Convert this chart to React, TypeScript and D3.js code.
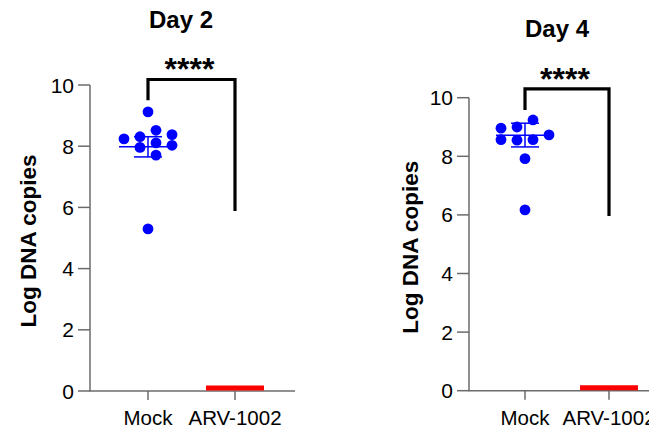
import * as d3 from 'd3';
import React from 'react';

// groups and day titles
const groups = ['Mock', 'ARV-1002'];
const titles = ['Day 2', 'Day 4'];
const yTicks = [0, 2, 4, 6, 8, 10];

// Mock values (log DNA copies) and their swarm column
const day2Mock = [9.12, 8.24, 8.31, 8.52, 8.38, 7.96, 8.11, 8.03, 7.71, 5.3];
const day2Cols = [0, -1.5, -0.5, 0.5, 1.5, -0.5, 0.5, 1.5, 0.5, 0];
const day4Mock = [8.96, 9.0, 9.24, 8.57, 8.55, 8.57, 8.73, 7.92, 6.17];
const day4Cols = [-1.5, -0.5, 0.5, -1.5, -0.5, 0.5, 1.5, 0, 0];

// summary lines (mean +/- SEM) for Mock, level for ARV-1002
const mockMean = [7.98, 8.72];
const mockUpper = [8.31, 9.13];
const mockLower = [7.65, 8.32];
const arvLevel = [0, 0];

// significance bracket
const bracketTop = [10.18, 10.3];
const bracketLeftEnd = [9.5, 9.58];
const bracketRightEnd = [5.88, 5.96];
const sigLabel = '****';

const font = "'Liberation Sans', Arial, sans-serif";

const panels = [
  { values: day2Mock, cols: day2Cols, axisX: 90, xEnd: 295, yTop: 85, yBottom: 391, mockX: 148, arvX: 235, titleX: 181, titleY: 28, labelX: 28 },
  { values: day4Mock, cols: day4Cols, axisX: 469, xEnd: 665, yTop: 97.7, yBottom: 390.7, mockX: 525, arvX: 609, titleX: 557, titleY: 37, labelX: 410 },
];

function Panel({ p, i }: { p: any; i: number }) {
  const y = d3.scaleLinear().domain([0, 10]).range([p.yBottom, p.yTop]);
  const x = d3.scalePoint<string>().domain(groups).range([p.mockX, p.arvX]);
  const mx = x('Mock')!;
  const ax = x('ARV-1002')!;
  const colStep = 16;
  const axisColor = '#6b6b6b';
  const blue = '#0000ff';

  return (
    <g>
      <text x={p.titleX} y={p.titleY} textAnchor="middle" fontFamily={font} fontWeight="bold" fontSize={24}>
        {titles[i]}
      </text>
      <text
        transform={`translate(${p.labelX},${(p.yTop + p.yBottom) / 2 + 3}) rotate(-90)`}
        textAnchor="middle"
        fontFamily={font}
        fontWeight="bold"
        fontSize={22.5}
        dy="0.35em"
      >
        Log DNA copies
      </text>

      {/* axes */}
      <line x1={p.axisX} x2={p.axisX} y1={y(10)} y2={y(0)} stroke={axisColor} strokeWidth={1.5} />
      <line x1={p.axisX - 0.75} x2={p.xEnd} y1={y(0)} y2={y(0)} stroke={axisColor} strokeWidth={1.5} />
      {yTicks.map((t) => (
        <g key={t}>
          <line x1={p.axisX - 12} x2={p.axisX} y1={y(t)} y2={y(t)} stroke={axisColor} strokeWidth={1.5} />
          <text x={p.axisX - 16} y={y(t)} dy="0.36em" textAnchor="end" fontFamily={font} fontSize={21}>
            {t}
          </text>
        </g>
      ))}
      {groups.map((g) => (
        <g key={g}>
          <line x1={x(g)} x2={x(g)} y1={y(0)} y2={y(0) + 9} stroke={axisColor} strokeWidth={1.5} />
          <text x={x(g)} y={y(0) + 34} textAnchor="middle" fontFamily={font} fontSize={20.5}>
            {g}
          </text>
        </g>
      ))}

      {/* ARV-1002 level */}
      <line x1={ax - 29} x2={ax + 29} y1={y(arvLevel[i]) - 3} y2={y(arvLevel[i]) - 3} stroke="#ff0000" strokeWidth={5} />

      {/* mean +/- SEM */}
      <line x1={mx - 29} x2={mx + 29} y1={y(mockMean[i])} y2={y(mockMean[i])} stroke={blue} strokeWidth={1.5} />
      <line x1={mx} x2={mx} y1={y(mockUpper[i])} y2={y(mockLower[i])} stroke={blue} strokeWidth={1.5} />
      <line x1={mx - 14} x2={mx + 14} y1={y(mockUpper[i])} y2={y(mockUpper[i])} stroke={blue} strokeWidth={1.5} />
      <line x1={mx - 14} x2={mx + 14} y1={y(mockLower[i])} y2={y(mockLower[i])} stroke={blue} strokeWidth={1.5} />

      {/* points */}
      {p.values.map((v: number, k: number) => (
        <circle key={k} cx={mx + p.cols[k] * colStep} cy={y(v)} r={5.4} fill={blue} />
      ))}

      {/* bracket */}
      <path
        d={`M${mx},${y(bracketLeftEnd[i])}V${y(bracketTop[i])}H${ax}V${y(bracketRightEnd[i])}`}
        fill="none"
        stroke="#000"
        strokeWidth={3.2}
      />
      <text x={(mx + ax) / 2 - 2} y={y(bracketTop[i]) + 1} textAnchor="middle" fontFamily={font} fontWeight="bold" fontSize={32}>
        {sigLabel}
      </text>
    </g>
  );
}

export default function App() {
  return (
    <div style={{ position: 'absolute', left: 0, top: 0 }}>
      <svg width={649} height={430} style={{ display: 'block', background: '#fff' }}>
        {panels.map((p, i) => (
          <Panel key={i} p={p} i={i} />
        ))}
      </svg>
    </div>
  );
}
